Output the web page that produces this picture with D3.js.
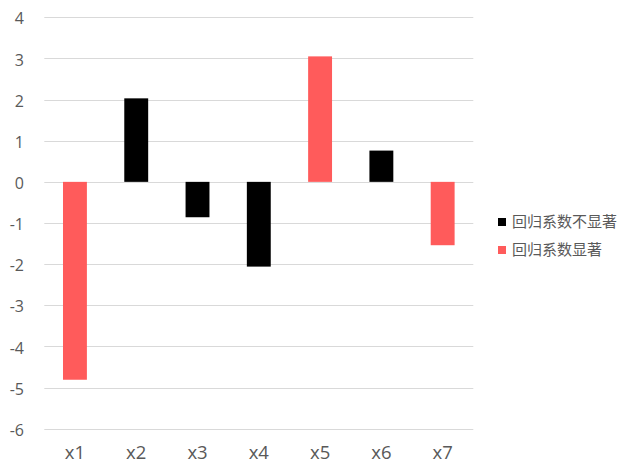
<!DOCTYPE html>
<html><head><meta charset="utf-8">
<script src="https://cdn.jsdelivr.net/npm/d3@7"></script>
<style>body{margin:0;background:#fff}svg{display:block}</style>
</head><body>
<svg id="c" width="633" height="472"></svg>
<script>
const categories = ["x1","x2","x3","x4","x5","x6","x7"];
const notSignificant = [null, 2.03, -0.86, -2.06, null, 0.76, null];
const significant = [-4.81, null, null, null, 3.05, null, -1.54];
const seriesNames = ["回归系数不显著","回归系数显著"];
const yTicks = [4,3,2,1,0,-1,-2,-3,-4,-5,-6];
const colors = ["#000000","#FF5B5B"];

(function(){
const svg = d3.select("#c");
const mLeft = 44.3, mRight = 473.3, mTop = 17.3, mBottom = 428.7;
const x = d3.scaleBand().domain(categories).range([mLeft,mRight]).paddingInner(0.61).paddingOuter(0.305);
const y = d3.scaleLinear().domain([-6,4]).range([mBottom,mTop]);

// gridlines
svg.append("g").selectAll("line").data(yTicks).join("line")
  .attr("x1",mLeft).attr("x2",mRight)
  .attr("y1",d=>Math.round(y(d))+0.5).attr("y2",d=>Math.round(y(d))+0.5)
  .attr("stroke","#D9D9D9").attr("stroke-width",1);

// y labels
const yAxis = d3.axisLeft(y).tickValues(yTicks).tickSize(0).tickPadding(0).tickFormat(d=>String(d));
const ya = svg.append("g").attr("transform","translate(24,1.5)").call(yAxis);
ya.select(".domain").remove();
ya.selectAll("text").attr("fill","#595959").style("font-family","'Open Sans','Noto Sans',sans-serif").style("font-size","16px");

// x labels
const xAxis = d3.axisBottom(x).tickSize(0).tickPadding(0);
const xa = svg.append("g").attr("transform","translate(0,446)").call(xAxis);
xa.select(".domain").remove();
xa.selectAll("text").attr("fill","#595959").style("font-family","'Open Sans','Noto Sans',sans-serif").style("font-size","18.5px");

// bars
[notSignificant, significant].forEach((vals,i)=>{
  const data = categories.map((c,j)=>({c, v: vals[j]})).filter(d=>d.v!==null);
  svg.append("g").selectAll("rect").data(data).join("rect")
    .attr("x",d=>x(d.c)).attr("width",x.bandwidth())
    .attr("y",d=>y(Math.max(0,d.v))).attr("height",d=>Math.abs(y(d.v)-y(0)))
    .attr("fill",colors[i]);
});

// legend
const lg = svg.append("g").attr("transform","translate(498,218)");
seriesNames.forEach((n,i)=>{
  const g = lg.append("g").attr("transform",`translate(0,${i*28})`);
  g.append("rect").attr("width",8).attr("height",8).attr("fill",colors[i]);
  g.append("text").attr("x",14).attr("y",4).attr("dy","0.35em").text(n)
    .attr("fill","#595959").style("font-family","'Noto Sans CJK SC',sans-serif").style("font-size","15px");
});
})();
</script>
</body></html>
